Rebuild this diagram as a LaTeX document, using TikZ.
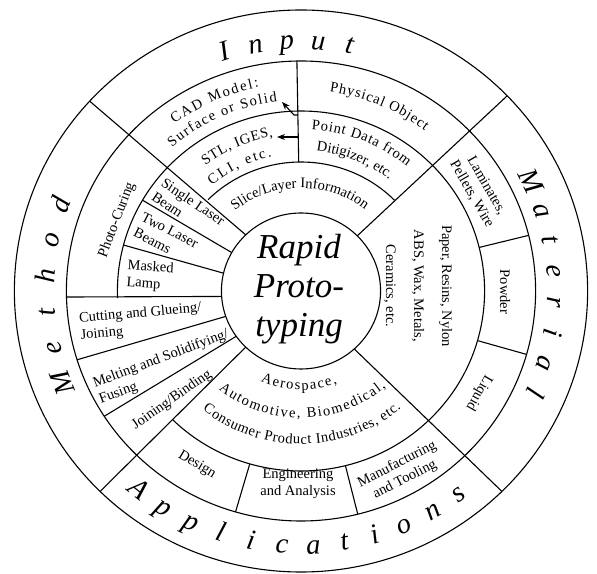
\documentclass[tikz,border=0pt]{standalone}
\usepackage{fontspec}
\setmainfont{Liberation Serif}
\usetikzlibrary{decorations.text,arrows.meta}
\newcommand\lblfont{\fontsize{14.5}{17}\selectfont}
\newcommand\bigltfont{\fontsize{28.5}{30}\selectfont\itshape}
\begin{document}
\begin{tikzpicture}[x=1pt,y=1pt,line width=1.1pt,
  lbl/.style={font=\lblfont, inner sep=0pt},
  bigl/.style={font=\bigltfont, inner sep=0pt, anchor=base},
  arrowline/.style={-{Stealth[length=8pt,width=6pt]}, line width=1.1pt}]
\useasboundingbox (0,0) rectangle (597,573);
\begin{scope}[shift={(301,282)}, xscale=1.02]
  % rings
  \draw (0,0) circle[radius=281];
  \draw (0,0) circle[radius=230];
  \draw (0,0) circle[radius=78];
  \draw (-134.25:180) arc[start angle=-134.25, end angle=182.3, radius=180];
  \draw (44.75:129) arc[start angle=44.75, end angle=134.9, radius=129];
  % main dividers
  \draw (137.5:281) -- (134:78);
  \draw (44:281) -- (45:78);
  \draw (-45.5:281) -- (-48:78);
  \draw (225.5:281) -- (226:78);
  % input
  \draw (91:129) -- (91:230);
  % method
  \draw (149.7:180) -- (150.5:78);
  \draw (165.2:180) -- (166.8:78);
  \draw (181.5:230) -- (184:78);
  \draw (197.4:230) -- (199:78);
  \draw (213:230) -- (215.5:78);
  % material
  \draw (14:180) -- (14:230);
  \draw (-16:180) -- (-16:230);
  % applications
  \draw (253.8:180) -- (253.8:230);
  \draw (284:180) -- (284:230);

  % big outer words
  \foreach \ch [count=\i from 0] in {I,n,p,u,t}
    \node[bigl, rotate={107.4-\i*7.1-90}] (inp\i) at ({107.4-\i*7.1}:242) {\ch};
  \foreach \ch [count=\i from 0] in {M,a,t,e,r,i,a,l}
    \node[bigl, rotate={26-\i*7.14-90}] (mat\i) at ({26-\i*7.14}:242) {\ch};
  \foreach \ch [count=\i from 0] in {M,e,t,h,o,d}
    \node[bigl, rotate={201.5-\i*8.34-90}] (met\i) at ({201.5-\i*8.34}:242) {\ch};
  \foreach \ch [count=\i from 0] in {A,p,p,l,i,c,a,t,i,o,n,s}
    \node[bigl, rotate={231.3+\i*6.9+90}] (app\i) at ({231.3+\i*6.9}:263) {\ch};

  % curved labels, input sector
  \path[decorate, decoration={text along path, text align=fit to path,
    text={|\lblfont|Physical Object}}]
    (82:201) arc[start angle=82, end angle=52.8, radius=201];
  \path[decorate, decoration={text along path, text align=fit to path,
    text={|\lblfont|Point Data from}}]
    (86.3:162) arc[start angle=86.3, end angle=50.1, radius=162];
  \path[decorate, decoration={text along path, text align=center,
    text={|\lblfont|Ditigizer, etc.}}]
    (100:141) arc[start angle=100, end angle=35.8, radius=141];
  \path[decorate, decoration={text along path, text align=fit to path,
    text={|\lblfont|CAD Model:}}]
    (126.6:208) arc[start angle=126.6, end angle=101.4, radius=208];
  \path[decorate, decoration={text along path, text align=fit to path,
    text={|\lblfont|Surface or Solid}}]
    (131.4:191) arc[start angle=131.4, end angle=97, radius=191];
  \path[decorate, decoration={text along path, text align=fit to path,
    text={|\lblfont|STL, IGES,}}]
    (126.7:157) arc[start angle=126.7, end angle=100, radius=157];
  \path[decorate, decoration={text along path, text align=fit to path,
    text={|\lblfont|CLI, etc.}}]
    (129.6:137) arc[start angle=129.6, end angle=102, radius=137];
  \path[decorate, decoration={text along path, text align=center,
    text={|\lblfont|Slice/Layer Information}}]
    (140:103) arc[start angle=140, end angle=41.4, radius=103];

  % curved labels, applications sector
  \path[decorate, decoration={text along path, text align=fit to path,
    text={|\lblfont|Aerospace,}}]
    (246.4:99) arc[start angle=246.4, end angle=291, radius=99];
  \path[decorate, decoration={text along path, text align=fit to path,
    text={|\lblfont|Automotive, Biomedical,}}]
    (230.5:127) arc[start angle=230.5, end angle=310.9, radius=127];
  \path[decorate, decoration={text along path, text align=fit to path,
    text={|\lblfont|Consumer Product Industries, etc.}}]
    (231:153) arc[start angle=231, end angle=309.9, radius=153];
\end{scope}

% arrows in input sector
\coordinate (a1s) at (298,458);
\coordinate (a1m) at (294,458);
\coordinate (a1e) at (282,471);
\draw[arrowline] (a1s) -- (a1m) -- (a1e);
\coordinate (a2s) at (298,436);
\coordinate (a2e) at (277,436);
\draw[arrowline] (a2s) -- (a2e);

% method sector labels
\node[lbl, rotate=69] (photo) at (117,353) {Photo-Curing};
\node[lbl, rotate=-34, align=left] (single) at (188.5,364.4) {Single Laser\\Beam};
\node[lbl, rotate=-27, align=left] (two) at (166,335) {Two Laser\\Beams};
\node[lbl, rotate=-4, align=left] (masked) at (150,297) {Masked\\Lamp};
\node[lbl, rotate=5, align=left] (cutting) at (141,251) {Cutting and Glueing/\\Joining};
\node[lbl, rotate=20.6, align=left] (melting) at (164,206) {Melting and Solidifying/\\Fusing};
\node[lbl, rotate=35] (joining) at (172,173) {Joining/Binding};

% material sector labels
\node[lbl, rotate=-60, align=center] (lam) at (479,383) {Laminates,\\Pellets, Wire};
\node[lbl, rotate=-90] (powder) at (505,281) {Powder};
\node[lbl, rotate=-120] (liquid) at (479,180) {Liquid};
\node[lbl, rotate=-90, align=center, font=\fontsize{14.5}{28}\selectfont] (paper) at (418,287)
  {Paper, Resins, Nylon\\ABS, Wax, Metals,\\Ceramics, etc.};

% applications sector labels
\node[lbl, rotate=-31] (design) at (197,108) {Design};
\node[lbl, align=center] (eng) at (298,89) {Engineering\\and Analysis};
\node[lbl, rotate=27, align=center] (manu) at (401,101) {Manufacturing\\and Tooling};

% centre
\node[font=\fontsize{35}{39}\selectfont\itshape, align=center, inner sep=0pt] (rp) at (299,284)
  {Rapid\\Proto-\\typing};
\end{tikzpicture}
\end{document}
